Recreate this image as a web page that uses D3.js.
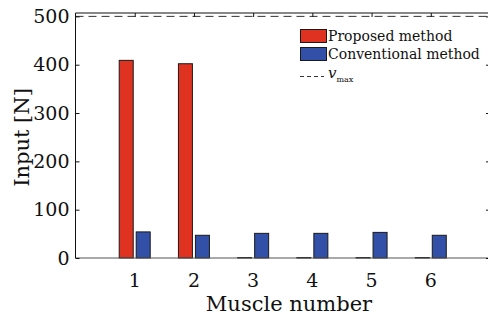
<!DOCTYPE html>
<html>
<head>
<meta charset="utf-8">
<script src="https://cdn.jsdelivr.net/npm/d3@7/dist/d3.min.js"></script>
<style>
  html, body { margin: 0; padding: 0; background: #fff; }
  svg { display: block; }
</style>
</head>
<body>
<svg id="chart" width="488" height="320"></svg>
<script>
// Muscle inputs for the two control methods
const muscles = [1, 2, 3, 4, 5, 6];
const proposed = [409, 402, 1, 1, 1, 1];
const conventional = [54, 47, 51, 51, 53, 47];
const yTicks = [0, 100, 200, 300, 400, 500];
const vMax = 500;
const seriesNames = ["Proposed method", "Conventional method"];
const seriesColors = ["#e03220", "#3350a8"];

const FONT = "'DejaVu Serif', 'Liberation Serif', serif";

const plot = { left: 75.5, right: 490, top: 13, bottom: 258 };

const svg = d3.select("#chart")
  .attr("font-family", FONT);

const x = d3.scaleLinear().domain([0, 7]).range([plot.left, plot.right]);
const y = d3.scaleLinear().domain([0, 507]).range([plot.bottom, plot.top]);
// offset of each series inside a muscle group, in pixels
const inner = d3.scaleBand().domain(seriesNames).range([-15.5, 15.5]).paddingInner(0.176);

const series = [proposed, conventional];

// bars
series.forEach((vals, si) => {
  svg.append("g")
    .selectAll("rect")
    .data(muscles.map((m, i) => ({ m, v: vals[i] })))
    .join("rect")
    .attr("x", d => x(d.m) + inner(seriesNames[si]))
    .attr("y", d => y(d.v))
    .attr("width", inner.bandwidth())
    .attr("height", d => y(0) - y(d.v))
    .attr("fill", seriesColors[si])
    .attr("stroke", "#1a1a1a")
    .attr("stroke-width", 1);
});

// baseline
svg.append("line")
  .attr("x1", plot.left).attr("x2", plot.right)
  .attr("y1", y(0)).attr("y2", y(0))
  .attr("stroke", "#555").attr("stroke-width", 1.2);

// upper limit
svg.append("line")
  .attr("x1", plot.left).attr("x2", plot.right)
  .attr("y1", y(vMax)).attr("y2", y(vMax))
  .attr("stroke", "#333").attr("stroke-width", 1)
  .attr("stroke-dasharray", "8,5");

// axes (box with inward ticks)
const tickLen = 4;
const leftAxis = d3.axisRight(y).tickValues(yTicks).tickSize(tickLen).tickFormat("");
const rightAxis = d3.axisLeft(y).tickValues(yTicks).tickSize(tickLen).tickFormat("");
const topAxis = d3.axisBottom(x).tickValues(muscles).tickSize(tickLen).tickFormat("");

function styleAxis(g) {
  g.attr("font-family", FONT);
  g.select(".domain").attr("stroke", "#111").attr("stroke-width", 1);
  g.selectAll(".tick line").attr("stroke", "#111").attr("stroke-width", 1);
}

svg.append("g").attr("transform", `translate(${plot.left},0)`).call(leftAxis).call(styleAxis)
  .select(".domain").attr("d", `M0,${plot.top}V${plot.bottom}`);
svg.append("g").attr("transform", `translate(${plot.right},0)`).call(rightAxis).call(styleAxis)
  .select(".domain").attr("d", `M0,${plot.top}V${plot.bottom}`);
svg.append("g").attr("transform", `translate(0,${plot.top})`).call(topAxis).call(styleAxis)
  .select(".domain").attr("d", `M${plot.left},0H${plot.right}`);

// y tick labels
svg.append("g").selectAll("text")
  .data(yTicks).join("text")
  .attr("x", plot.left - 6)
  .attr("y", d => y(d))
  .attr("dy", "0.35em")
  .attr("text-anchor", "end")
  .attr("font-size", 19)
  .attr("fill", "#111")
  .text(d => d);

// x tick labels
svg.append("g").selectAll("text")
  .data(muscles).join("text")
  .attr("x", d => x(d))
  .attr("y", 287)
  .attr("text-anchor", "middle")
  .attr("font-size", 19)
  .attr("fill", "#111")
  .text(d => d);

// axis titles
svg.append("text")
  .attr("x", 289).attr("y", 311)
  .attr("text-anchor", "middle")
  .attr("font-size", 21)
  .attr("fill", "#111")
  .text("Muscle number");

svg.append("text")
  .attr("transform", `translate(29,${(plot.top + plot.bottom) / 2 + 2}) rotate(-90)`)
  .attr("text-anchor", "middle")
  .attr("font-size", 21)
  .attr("fill", "#111")
  .text("Input [N]");

// legend
const lg = svg.append("g").attr("transform", "translate(300,29)");
seriesNames.forEach((name, i) => {
  lg.append("rect")
    .attr("x", 0.5).attr("y", i * 18 + 0.5)
    .attr("width", 26).attr("height", 13)
    .attr("fill", seriesColors[i])
    .attr("stroke", "#1a1a1a").attr("stroke-width", 1);
  lg.append("text")
    .attr("x", 28).attr("y", i * 18 + 12)
    .attr("font-size", 14)
    .attr("fill", "#111")
    .text(name);
});
lg.append("line")
  .attr("x1", 0).attr("x2", 24)
  .attr("y1", 47.5).attr("y2", 47.5)
  .attr("stroke", "#333").attr("stroke-width", 1)
  .attr("stroke-dasharray", "4,3");
const vt = lg.append("text").attr("x", 28).attr("y", 49).attr("font-size", 15).attr("fill", "#111");
vt.append("tspan").attr("font-style", "italic").text("v");
vt.append("tspan").attr("dy", 4).attr("font-size", 8).text("max");
</script>
</body>
</html>
